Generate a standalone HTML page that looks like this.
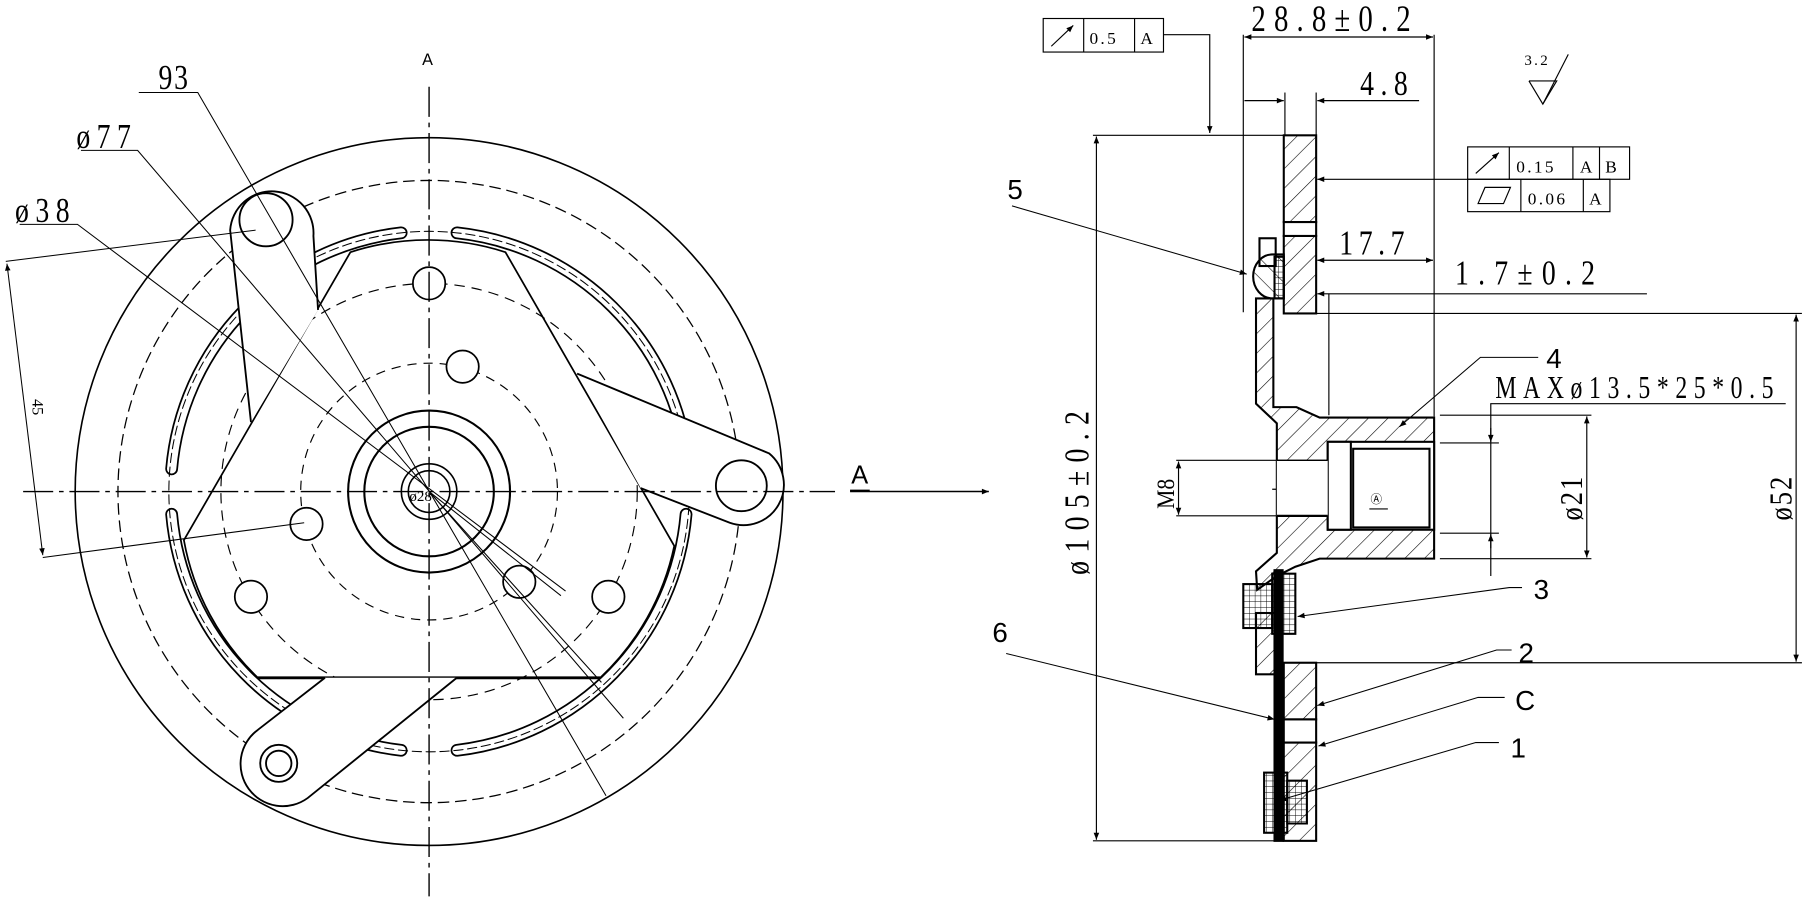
<!DOCTYPE html>
<html><head><meta charset="utf-8"><style>
html,body{margin:0;padding:0;background:#fff;}
svg{display:block}
text{font-family:"Liberation Serif",serif;fill:#000}
.s{font-family:"Liberation Sans",sans-serif}
</style></head><body>
<svg width="1810" height="901" viewBox="0 0 1565 779" preserveAspectRatio="none" xmlns="http://www.w3.org/2000/svg">
<defs>
<marker id="ar" viewBox="0 0 10 10" refX="10" refY="5" markerWidth="9" markerHeight="6" orient="auto-start-reverse" markerUnits="userSpaceOnUse"><path d="M0,1 L10,5 L0,9 Z" fill="#000"/></marker>
<pattern id="h" width="12" height="12" patternUnits="userSpaceOnUse" patternTransform="rotate(45)"><line x1="0" y1="0" x2="0" y2="12" stroke="#000" stroke-width="1"/></pattern>
<pattern id="h2" width="12" height="12" patternUnits="userSpaceOnUse" patternTransform="rotate(-45)"><line x1="0" y1="0" x2="0" y2="12" stroke="#000" stroke-width="1"/></pattern>
<pattern id="g" width="5" height="5" patternUnits="userSpaceOnUse"><path d="M0,0H5M0,0V5" stroke="#000" stroke-width="0.8" fill="none"/></pattern>
</defs>
<rect width="1565" height="779" fill="#fff"/>

<!-- LEFT VIEW -->
<g fill="none" stroke="#000" stroke-width="1.4">
<circle cx="371" cy="425" r="306"/>
<circle cx="371" cy="425" r="269" stroke-dasharray="10,5" stroke-width="1.1"/>
<circle cx="371" cy="425" r="180" stroke-dasharray="9,6" stroke-width="1"/>
<circle cx="371" cy="425" r="111" stroke-dasharray="8,6" stroke-width="1"/>
<circle cx="371" cy="425" r="70" stroke-width="1.8"/>
<circle cx="371" cy="425" r="56" stroke-width="1.8"/>
<circle cx="371" cy="425" r="24"/>
<circle cx="371" cy="425" r="18"/>
</g>
<g fill="none" stroke-linecap="round">
<g stroke="#000" stroke-width="11">
<path d="M 395.1 201.3 A 225 225 0 0 1 594.6 399.5"/>
<path d="M 346.9 201.3 A 225 225 0 0 0 148.4 405.4"/>
<path d="M 148.4 444.6 A 225 225 0 0 0 346.9 648.7"/>
<path d="M 395.1 648.7 A 225 225 0 0 0 593.2 444.6"/>
</g>
<g stroke="#fff" stroke-width="8">
<path d="M 395.1 201.3 A 225 225 0 0 1 594.6 399.5"/>
<path d="M 346.9 201.3 A 225 225 0 0 0 148.4 405.4"/>
<path d="M 148.4 444.6 A 225 225 0 0 0 346.9 648.7"/>
<path d="M 395.1 648.7 A 225 225 0 0 0 593.2 444.6"/>
</g>
<circle cx="371" cy="425" r="225" stroke="#000" stroke-width="0.9" stroke-dasharray="8,4"/>
</g>
<path d="M303,218 A218,218 0 0 1 437,218 L583,472 A218,218 0 0 1 519,586 L223,586 A218,218 0 0 1 159,467 Z" fill="none" stroke="#000" stroke-width="1.5"/>
<line x1="223" y1="586" x2="519" y2="586" stroke="#000" stroke-width="2.5"/>
<g fill="#fff" stroke="#000" stroke-width="1.5">
<circle cx="371" cy="245" r="14"/><circle cx="400" cy="317" r="14"/><circle cx="265" cy="453" r="14"/>
<circle cx="217" cy="516" r="14"/><circle cx="449" cy="503" r="14"/><circle cx="526" cy="516" r="14"/>
</g>
<g fill="#fff" stroke="#000" stroke-width="1.6">
<path d="M217,365 L199,199 A36,36 0 1 1 271,204 L275,268"/>
<path d="M499,323 L665,392 A35,35 0 0 1 631,452 L554,422"/>
<path d="M281,586 L223,631 A36,36 0 1 0 266,690 L395,586"/>
<circle cx="230" cy="190" r="23"/>
<circle cx="641" cy="420" r="22"/>
<circle cx="241" cy="660" r="16"/><circle cx="241" cy="660" r="11"/>
</g>
<g stroke="#000" stroke-width="1.2" fill="none" stroke-dasharray="26,5,4,5">
<line x1="20" y1="425" x2="722" y2="425"/>
<line x1="371" y1="75" x2="371" y2="775"/>
</g>
<g stroke="#000" stroke-width="0.9" fill="none">
<polyline points="120,80 171,80 524,688"/>
<polyline points="70,130 119,130 539,621"/>
<polyline points="17,194 67,194 489,511"/>
<line x1="5" y1="226" x2="221" y2="199"/>
<line x1="37" y1="482" x2="263" y2="452"/>
<line x1="6" y1="228" x2="37" y2="480" marker-start="url(#ar)" marker-end="url(#ar)"/>
<line x1="371" y1="425" x2="485" y2="515"/>
<line x1="371" y1="425" x2="520" y2="590"/>
<line x1="735" y1="425" x2="855" y2="425" stroke-width="1.3" marker-end="url(#ar)"/>
<line x1="735" y1="424" x2="752" y2="424" stroke-width="1.3"/>
</g>
<text transform="translate(137,77) scale(0.8,1)" font-size="30" letter-spacing="2">93</text>
<text transform="translate(66,128) scale(0.8,1)" font-size="30" letter-spacing="7">ø77</text>
<text transform="translate(13,192) scale(0.8,1)" font-size="30" letter-spacing="7">ø38</text>
<text x="354" y="433" font-size="13">ø28</text>
<text transform="translate(28,345) rotate(90)" font-size="14">45</text>
<text x="365" y="56" font-size="14" class="s">A</text>
<text x="736" y="418" font-size="22" class="s">A</text>

<!-- RIGHT VIEW -->
<g fill="none" stroke="#000" stroke-width="1">
<rect x="902" y="16" width="104" height="29"/>
<line x1="937" y1="16" x2="937" y2="45"/><line x1="981" y1="16" x2="981" y2="45"/>
<line x1="909" y1="40" x2="928" y2="22" marker-end="url(#ar)"/>
<polyline points="1006,30 1046,30 1046,115" marker-end="url(#ar)"/>
</g>
<text x="942" y="38" font-size="15" letter-spacing="2">0.5</text><text x="986" y="38" font-size="15">A</text>
<g fill="none" stroke="#000" stroke-width="1">
<line x1="1075" y1="30" x2="1075" y2="270"/>
<line x1="1240" y1="30" x2="1240" y2="360"/>
<line x1="1076" y1="32" x2="1239" y2="32" marker-start="url(#ar)" marker-end="url(#ar)"/>
<line x1="1111" y1="80" x2="1111" y2="117"/><line x1="1138" y1="80" x2="1138" y2="117"/>
<line x1="1076" y1="87" x2="1110" y2="87" marker-end="url(#ar)"/>
<line x1="1227" y1="87" x2="1139" y2="87" marker-end="url(#ar)"/>
<line x1="945" y1="117" x2="1110" y2="117"/>
<line x1="945" y1="727" x2="1110" y2="727"/>
<line x1="948" y1="118" x2="948" y2="726" marker-start="url(#ar)" marker-end="url(#ar)"/>
<line x1="1139" y1="225" x2="1239" y2="225" marker-start="url(#ar)" marker-end="url(#ar)"/>
<line x1="1424" y1="254" x2="1139" y2="254" marker-end="url(#ar)"/>
<line x1="1149" y1="254" x2="1149" y2="359"/>
<line x1="1138" y1="271" x2="1558" y2="271"/>
<line x1="1138" y1="573" x2="1558" y2="573"/>
<line x1="1553" y1="272" x2="1553" y2="572" marker-start="url(#ar)" marker-end="url(#ar)"/>
<line x1="1245" y1="359" x2="1376" y2="359"/><line x1="1245" y1="483" x2="1376" y2="483"/>
<line x1="1372" y1="360" x2="1372" y2="482" marker-start="url(#ar)" marker-end="url(#ar)"/>
<line x1="1245" y1="383" x2="1296" y2="383"/><line x1="1245" y1="461" x2="1296" y2="461"/>
<polyline points="1544,349 1289,349 1289,498"/>
<line x1="1289" y1="370" x2="1289" y2="382" marker-end="url(#ar)"/>
<line x1="1289" y1="474" x2="1289" y2="462" marker-end="url(#ar)"/>
<line x1="1017" y1="398" x2="1146" y2="398"/><line x1="1017" y1="446" x2="1146" y2="446"/>
<line x1="1019" y1="399" x2="1019" y2="445" marker-start="url(#ar)" marker-end="url(#ar)"/>
<line x1="1100" y1="423" x2="1145" y2="423" stroke-dasharray="12,4,3,4"/>
</g>
<text transform="translate(1082,27) scale(0.78,1)" font-size="32" letter-spacing="9">28.8±0.2</text>
<text transform="translate(1176,82) scale(0.8,1)" font-size="30" letter-spacing="7">4.8</text>
<text transform="translate(1158,220) scale(0.8,1)" font-size="30" letter-spacing="6">17.7</text>
<text transform="translate(1258,246) scale(0.8,1)" font-size="30" letter-spacing="10">1.7±0.2</text>
<text transform="translate(1293,344) scale(0.76,1)" font-size="27" letter-spacing="7.5">MAXø13.5*25*0.5</text>
<text transform="translate(941,497) rotate(-90) scale(0.8,1)" font-size="30" letter-spacing="9">ø105±0.2</text>
<text transform="translate(1549,450) rotate(-90) scale(0.85,1)" font-size="27" letter-spacing="2">ø52</text>
<text transform="translate(1368,450) rotate(-90) scale(0.85,1)" font-size="27" letter-spacing="2">ø21</text>
<text transform="translate(1015,440) rotate(-90) scale(0.85,1)" font-size="22">M8</text>
<g fill="none" stroke="#000" stroke-width="1">
<polyline points="1322,70 1346,70 1334,90 1322,70"/>
<line x1="1334" y1="90" x2="1356" y2="47"/>
</g>
<text x="1318" y="56" font-size="13" letter-spacing="2">3.2</text>
<g fill="none" stroke="#000" stroke-width="1">
<rect x="1269" y="127" width="140" height="28"/>
<line x1="1305" y1="127" x2="1305" y2="155"/><line x1="1360" y1="127" x2="1360" y2="155"/><line x1="1383" y1="127" x2="1383" y2="155"/>
<rect x="1269" y="155" width="123" height="28"/>
<line x1="1315" y1="155" x2="1315" y2="183"/><line x1="1369" y1="155" x2="1369" y2="183"/>
<line x1="1276" y1="150" x2="1296" y2="132" marker-end="url(#ar)"/>
<path d="M1278,176 L1284,162 L1306,162 L1300,176 Z"/>
<line x1="1269" y1="155" x2="1139" y2="155" marker-end="url(#ar)"/>
</g>
<text x="1311" y="149" font-size="15" letter-spacing="2">0.15</text><text x="1366" y="149" font-size="15">A</text><text x="1388" y="149" font-size="15">B</text>
<text x="1321" y="177" font-size="15" letter-spacing="2">0.06</text><text x="1374" y="177" font-size="15">A</text>

<g stroke="#000" stroke-width="1.8">
<rect x="1110" y="117" width="28" height="75" fill="url(#h)"/>
<rect x="1110" y="204" width="28" height="67" fill="url(#h)"/>
<rect x="1110" y="192" width="28" height="12" fill="#fff"/>
<path d="M1086,258 L1101,258 L1101,352 L1121,352 L1141,361 L1240,361 L1240,483 L1141,483 L1120,490 L1104,498 L1087,510 L1086,494 L1104,478 L1104,366 L1086,349 Z" fill="url(#h)"/>
<rect x="1148" y="382" width="92" height="76" fill="#fff"/>
<rect x="1148" y="382" width="20" height="76" fill="#fff"/>
<rect x="1170" y="388" width="66" height="68" fill="#fff"/>
<rect x="1104" y="398" width="44" height="48" fill="#fff" stroke-width="0"/>
<line x1="1104" y1="398" x2="1148" y2="398" stroke-width="1.2"/>
<line x1="1104" y1="446" x2="1148" y2="446" stroke-width="2"/>
<rect x="1086" y="530" width="16" height="53" fill="url(#h)"/>
<rect x="1075" y="505" width="25" height="38" fill="url(#g)"/>
<rect x="1100" y="496" width="20" height="52" fill="url(#g)"/>
<rect x="1110" y="573" width="28" height="49" fill="url(#h)"/>
<rect x="1110" y="622" width="28" height="20" fill="#fff"/>
<rect x="1110" y="642" width="28" height="85" fill="url(#h)"/>
<rect x="1093" y="668" width="20" height="52" fill="url(#g)"/>
<path d="M1113,675 L1130,675 L1130,712 L1113,712 Z" fill="url(#g)"/>
<rect x="1102" y="493" width="7" height="234" fill="#000"/>
<rect x="1089" y="206" width="14" height="24" fill="#fff"/>
<path d="M1100,220 A13,15 0 0 0 1100,258 L1110,258 L1110,220 Z" fill="url(#h2)"/>
<rect x="1102" y="222" width="8" height="36" fill="url(#g)"/>
</g>
<text x="1185" y="435" font-size="10">Ⓐ</text>
<line x1="1184" y1="440" x2="1200" y2="440" stroke="#000"/>

<g fill="none" stroke="#000" stroke-width="0.9">
<line x1="875" y1="178" x2="1078" y2="237" marker-end="url(#ar)"/>
<line x1="870" y1="565" x2="1102" y2="622" marker-end="url(#ar)"/>
<polyline points="1330,309 1280,309 1210,369" marker-end="url(#ar)"/>
<polyline points="1316,508 1305,508 1122,533" marker-end="url(#ar)"/>
<polyline points="1307,562 1294,562 1139,610" marker-end="url(#ar)"/>
<polyline points="1301,603 1278,603 1140,645" marker-end="url(#ar)"/>
<polyline points="1296,642 1276,642 1106,692" marker-end="url(#ar)"/>
</g>
<g font-size="24">
<text x="871" y="172" class="s">5</text>
<text x="858" y="555" class="s">6</text>
<text x="1337" y="318" class="s">4</text>
<text x="1326" y="518" class="s">3</text>
<text x="1313" y="573" class="s">2</text>
<text x="1310" y="614" class="s">C</text>
<text x="1306" y="655" class="s">1</text>
</g>
</svg>
</body></html>
